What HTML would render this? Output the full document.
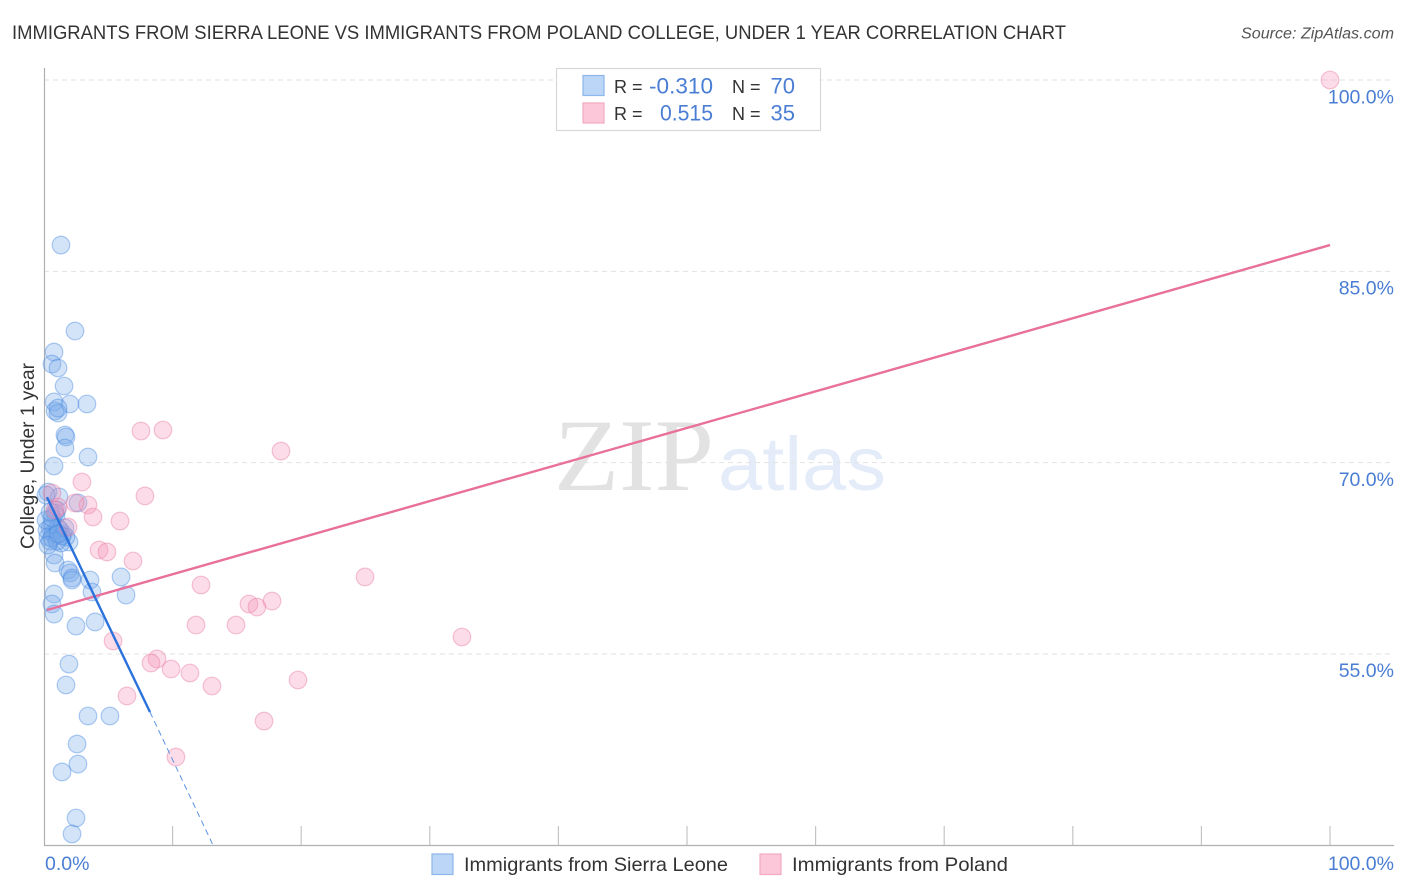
<!DOCTYPE html>
<html>
<head>
<meta charset="utf-8">
<title>Correlation chart</title>
<style>
html,body{margin:0;padding:0;background:#fff;}
svg{display:block;}
text{font-family:"Liberation Sans",sans-serif;}
</style>
</head>
<body>
<svg id="chart" width="1406" height="892" viewBox="0 0 1406 892" xmlns="http://www.w3.org/2000/svg">
  <text x="12" y="39" font-size="19.5" fill="#333" textLength="1054" lengthAdjust="spacingAndGlyphs">IMMIGRANTS FROM SIERRA LEONE VS IMMIGRANTS FROM POLAND COLLEGE, UNDER 1 YEAR CORRELATION CHART</text>
  <text x="1394" y="38.5" font-size="15.5" font-style="italic" fill="#555" text-anchor="end" textLength="153" lengthAdjust="spacingAndGlyphs">Source: ZipAtlas.com</text>

  <g>
    <text x="554" y="490" font-size="103" fill="#e2e2e2" textLength="160" lengthAdjust="spacingAndGlyphs" style="font-family:'Liberation Serif',serif">ZIP</text>
    <text x="718" y="490" font-size="76" fill="#e4ecf9" textLength="168" lengthAdjust="spacingAndGlyphs">atlas</text>
  </g>

  <g id="grid"></g>
  <g id="ticks"></g>
  <line x1="44.5" y1="68" x2="44.5" y2="846" stroke="#b0b0b0" stroke-width="1.2"/>
  <line x1="44" y1="845.5" x2="1394" y2="845.5" stroke="#b0b0b0" stroke-width="1.2"/>
  <g id="ylabels"></g>
  <text x="45" y="870" font-size="19.5" fill="#4a7dd4">0.0%</text>
  <text x="1394" y="870" font-size="19.5" fill="#4a7dd4" text-anchor="end">100.0%</text>
  <text transform="translate(34,549) rotate(-90)" font-size="19" fill="#333" textLength="186" lengthAdjust="spacingAndGlyphs">College, Under 1 year</text>

  <g id="sierra-points"></g>
  <g id="poland-points"></g>
  <g id="trends"></g>

  <g>
    <rect x="556.5" y="68.5" width="264" height="62" fill="#fff" stroke="#d8d8d8" stroke-width="1.2"/>
    <rect x="583" y="75.5" width="21" height="20" fill="#bcd6f7" stroke="#8db6ea" stroke-width="1.2"/>
    <rect x="583" y="103" width="21" height="20" fill="#fcc8d9" stroke="#f2a9c1" stroke-width="1.2"/>
    <text x="614" y="93" font-size="18" fill="#333">R =</text>
    <text x="713" y="93.5" font-size="22" fill="#4a7dd4" text-anchor="end" textLength="64" lengthAdjust="spacingAndGlyphs">-0.310</text>
    <text x="732" y="93" font-size="18" fill="#333">N =</text>
    <text x="795" y="93.5" font-size="22" fill="#4a7dd4" text-anchor="end">70</text>
    <text x="614" y="120" font-size="18" fill="#333">R =</text>
    <text x="713" y="120.5" font-size="22" fill="#4a7dd4" text-anchor="end" textLength="53" lengthAdjust="spacingAndGlyphs">0.515</text>
    <text x="732" y="120" font-size="18" fill="#333">N =</text>
    <text x="795" y="120.5" font-size="22" fill="#4a7dd4" text-anchor="end">35</text>
  </g>

  <g>
    <rect x="432" y="854" width="21" height="20.5" fill="#bcd6f7" stroke="#8db6ea" stroke-width="1.2"/>
    <text x="464" y="871" font-size="19.5" fill="#333" textLength="264" lengthAdjust="spacingAndGlyphs">Immigrants from Sierra Leone</text>
    <rect x="760" y="854" width="21" height="20.5" fill="#fcc8d9" stroke="#f2a9c1" stroke-width="1.2"/>
    <text x="792" y="871" font-size="19.5" fill="#333" textLength="216" lengthAdjust="spacingAndGlyphs">Immigrants from Poland</text>
  </g>
</svg>
<script>
const sierraX = [1.32,2.41,0.78,0.62,1.09,1.56,0.78,3.34,2.02,0.86,1.09,1.09,1.63,1.71,1.63,3.42,0.78,2.64,0.31,1.17,0.16,1.01,0.86,0.93,0.62,0.47,1.24,1.48,1.94,0.70,0.86,0.31,1.32,1.71,0.47,0.78,0.86,1.87,2.02,2.18,2.18,3.58,3.73,5.99,6.38,0.78,0.62,0.78,2.49,3.97,1.94,1.71,3.42,5.13,2.57,2.64,1.40,2.49,2.18,0.23,0.62,1.09,1.40,0.16,1.01,1.63,0.31,1.09,0.62,0.47];
const sierraY = [87.06,80.32,78.67,77.73,77.42,76.01,74.76,74.60,74.60,74.05,73.89,74.28,72.17,72.01,71.15,70.44,69.74,66.84,67.70,67.31,67.46,66.29,66.05,65.82,65.19,64.88,64.72,64.41,63.78,64.48,64.25,64.17,63.70,64.17,63.86,62.76,62.13,61.58,61.35,60.96,60.80,60.80,59.86,61.04,59.62,59.70,58.92,58.13,57.19,57.51,54.21,52.57,50.14,50.14,47.94,46.37,45.75,42.14,40.89,64.72,64.09,64.88,64.25,65.50,63.86,64.88,63.54,64.41,65.66,66.13];
const polandX = [100,7.54,9.25,18.43,2.95,7.85,3.42,3.81,5.91,1.87,4.28,4.90,6.92,24.96,12.21,15.94,16.56,17.73,11.82,14.93,32.50,5.37,8.79,8.32,9.88,11.35,19.75,13.06,6.45,17.11,10.26,0.62,1.09,0.86,2.41];
const polandY = [100,72.48,72.56,70.91,68.48,67.39,66.68,65.74,65.42,64.95,63.15,63.0,62.29,61.04,60.41,58.92,58.68,59.15,57.27,57.27,56.33,56.02,54.61,54.29,53.82,53.51,52.96,52.49,51.71,49.74,46.92,67.62,66.52,66.29,66.84];
const polandTrendX = [0.23,100];
const polandTrendY = [58.45,87.06];
const sierraTrendX = [0.23,8.24];
const sierraTrendY = [67.3,50.45];
const sierraDashX = [8.24,13.14];
const sierraDashY = [50.45,40.02];
const yTickValues = [100,85,70,55];
const yTickLabels = ["100.0%","85.0%","70.0%","55.0%"];
const xTickValues = [10,20,30,40,50,60,70,80,90,100];

const NS = "http://www.w3.org/2000/svg";
function xScale(v){ return 44 + v * 12.86; }
function yScale(v){ return 80 + (100 - v) * 12.755; }
function make(tag, attrs, parent){
  const el = document.createElementNS(NS, tag);
  for (const k in attrs) el.setAttribute(k, attrs[k]);
  parent.appendChild(el);
  return el;
}

const grid = document.getElementById('grid');
const yl = document.getElementById('ylabels');
yTickValues.forEach(function(v, i){
  const g = make('line', {x1:44, x2:1394, y1:yScale(v), y2:yScale(v), stroke:'#e2e2e2', 'stroke-width':1, 'stroke-dasharray':'5 4'}, grid);
  
  
  const t = make('text', {x:1394, y:yScale(v) + (i === 0 ? 23.5 : 23.2), 'font-size':19.5, fill:'#4a7dd4', 'text-anchor':'end'}, yl);
  t.textContent = yTickLabels[i];
  
  
});

const ticks = document.getElementById('ticks');
xTickValues.forEach(function(v){
  const tk = make('line', {x1:xScale(v), x2:xScale(v), y1:826, y2:846, stroke:'#c4c4c4', 'stroke-width':1.2}, ticks);
  
  
});

const sp = document.getElementById('sierra-points');
sierraX.forEach(function(v, i){
  const c = make('circle', {cx:xScale(v), cy:yScale(sierraY[i]), r:8.8, fill:'rgba(120,170,235,0.33)', stroke:'rgba(70,135,225,0.42)', 'stroke-width':1.2}, sp);
  
  
});
const pp = document.getElementById('poland-points');
polandX.forEach(function(v, i){
  const c = make('circle', {cx:xScale(v), cy:yScale(polandY[i]), r:8.8, fill:'rgba(245,150,185,0.33)', stroke:'rgba(232,120,160,0.42)', 'stroke-width':1.2}, pp);
  
  
});

const tr = document.getElementById('trends');
const l1 = make('line', {x1:xScale(polandTrendX[0]), y1:yScale(polandTrendY[0]), x2:xScale(polandTrendX[1]), y2:yScale(polandTrendY[1]), stroke:'#e8709a', 'stroke-width':2.4}, tr);


const l2 = make('line', {x1:xScale(sierraTrendX[0]), y1:yScale(sierraTrendY[0]), x2:xScale(sierraTrendX[1]), y2:yScale(sierraTrendY[1]), stroke:'#2b72dc', 'stroke-width':2.4}, tr);


const l3 = make('line', {x1:xScale(sierraDashX[0]), y1:yScale(sierraDashY[0]), x2:xScale(sierraDashX[1]), y2:yScale(sierraDashY[1]), stroke:'#5a92e4', 'stroke-width':1, 'stroke-dasharray':'6 4'}, tr);


</script>
</body>
</html>
